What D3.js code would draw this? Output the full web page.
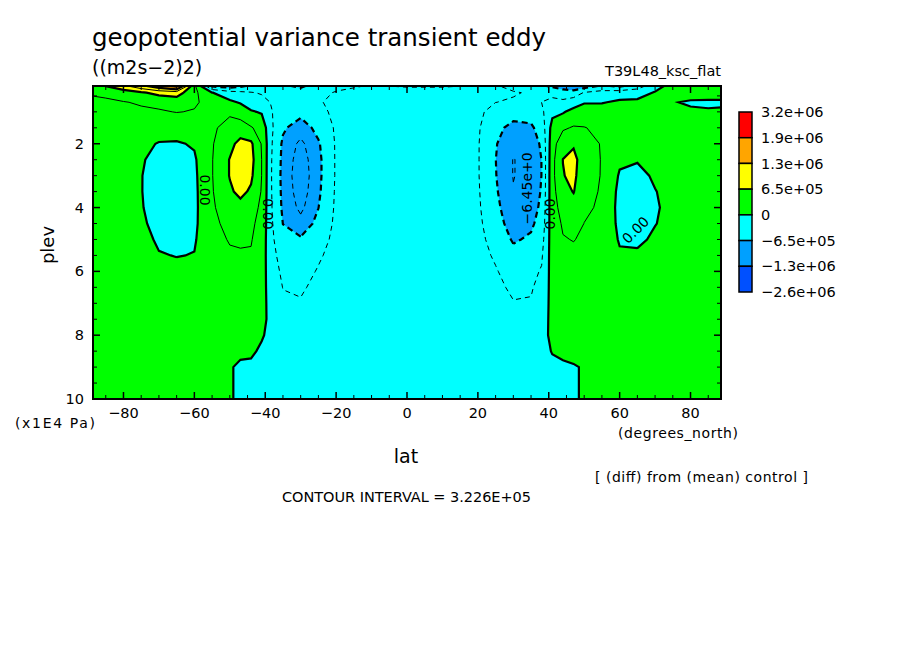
<!DOCTYPE html>
<html><head><meta charset="utf-8">
<script src="https://cdn.jsdelivr.net/npm/d3@7"></script>
<style>body{margin:0;background:#fff}text{font-family:"DejaVu Sans",sans-serif;fill:#000}</style>
</head><body><svg id="c" width="904" height="654"></svg>
<script>
// ---- data (units of 1e5 (m2s-2)2) ----
const lats = [-90,-85,-80,-75,-70,-65,-60,-55,-50,-47,-44,-41,-38,-35,-30,-25,-20,-10,0,10,20,25,30,35,38,41,44,47,50,55,60,65,70,75,80,85,90];
const plevs = [0.19,0.4,0.7,1,1.5,2,2.5,3,3.5,4,4.5,5,5.5,6,6.5,7,7.5,8,8.5,9,9.5,10];
const columns = [
[5,3.5,2.5,2,2,2,2,2,2,2,2,2,2,2,2,2,2,2,2,2,2,2],
[6.5,3.9,2.7,2.1,2,2,2,2,2,2,2,2,2,2,2,2,2,2,2,2,2,2],
[9,4.6,3.1,2.3,2,1.8,1.5,1.3,1.3,1.4,1.6,1.8,2,2,2,2,2,2,2,2,2,2],
[12,6,3.5,2.8,2,0.8,0.3,0.1,0.1,0.2,0.5,1.1,1.6,2,2,2,2,2,2,2,2,2],
[15,7.5,3.8,3,1.6,-0.2,-1,-1.3,-1.4,-1.3,-1,-0.5,0.2,1,1.6,2,2,2,2,2,2,2],
[18,8,4.5,3.3,1.5,-0.3,-1.3,-1.6,-1.6,-1.5,-1.3,-0.8,-0.1,0.8,1.5,2,2,2,2,2,2,2],
[4,4,3.5,3.1,1.8,0.3,-0.4,-0.6,-0.7,-0.7,-0.6,-0.3,0.1,0.8,1.5,2,2,2,2,2,2,2],
[-7,0.1,2.5,2.8,2.8,3.0,3.1,3.1,3.0,2.8,2.6,2.4,2.2,2.2,2.2,2.2,2.2,2.2,2.2,2.1,2,2],
[-8,-2,0.6,2.8,4.2,5.5,6.6,6.6,6,5,4,3.4,2.9,2.6,2.4,2.2,2,1.8,1.2,0.25,0.25,0.25],
[-7,-2.5,-0.3,2,4.5,7.5,8.5,8,7.2,5.5,4.2,3.5,3,2.6,2.3,2.1,1.9,1.5,0.6,-0.5,-0.5,-0.5],
[-6,-3,-1.5,0.3,3.5,7,7.5,7,6,4.5,3.8,3.4,3,2.7,2.4,2.2,2,1.6,0.5,-0.6,-0.7,-0.7],
[-5,-3.5,-2.2,-0.3,2,3,3.2,3.2,3,2.6,2.2,1.8,1.5,1.3,1.1,1,0.9,0.3,-0.5,-0.8,-0.8,-0.8],
[-5,-4,-3.5,-3.2,-3,-3.3,-3.6,-3.7,-3.6,-3.4,-3.1,-2.8,-2.4,-2,-1.6,-1.3,-1.1,-1,-0.9,-0.9,-0.9,-0.9],
[-6,-5,-4.5,-5,-6,-7,-7.2,-7.3,-7.2,-7,-6.5,-5.5,-4.5,-3.8,-3.3,-2.8,-2.4,-2.1,-1.9,-1.8,-1.7,-1.6],
[-7,-5,-4,-5.5,-8,-10.5,-11.5,-12,-11.5,-10.5,-8.5,-6,-5,-4.3,-3.6,-3,-2.5,-2.2,-2,-1.8,-1.7,-1.6],
[-5,-4,-3.5,-4,-5.5,-6.8,-7.2,-7.2,-7,-6.5,-5.5,-4.5,-3.6,-3,-2.5,-2.2,-2,-1.8,-1.7,-1.6,-1.5,-1.5],
[-4,-3,-2.5,-2.6,-2.8,-2.9,-2.9,-2.9,-2.8,-2.7,-2.6,-2.4,-2.2,-2,-1.8,-1.7,-1.6,-1.5,-1.5,-1.5,-1.4,-1.4],
[-3,-2,-1.5,-1.5,-1.6,-1.7,-1.8,-1.8,-1.7,-1.6,-1.5,-1.4,-1.3,-1.3,-1.3,-1.3,-1.3,-1.3,-1.3,-1.3,-1.3,-1.3],
[-3.5,-2,-1.5,-1.3,-1.3,-1.4,-1.4,-1.4,-1.4,-1.3,-1.3,-1.2,-1.2,-1.2,-1.2,-1.2,-1.2,-1.2,-1.2,-1.2,-1.2,-1.2],
[-3.5,-2,-1.5,-1.5,-1.6,-1.7,-1.8,-1.8,-1.7,-1.6,-1.5,-1.4,-1.3,-1.3,-1.3,-1.3,-1.3,-1.3,-1.3,-1.3,-1.3,-1.3],
[-3,-2.5,-2.2,-2.5,-2.9,-3,-3,-3,-2.9,-2.8,-2.6,-2.4,-2.2,-2,-1.8,-1.7,-1.6,-1.5,-1.5,-1.5,-1.4,-1.4],
[-3,-3,-3.2,-4.5,-5.5,-6.2,-6.4,-6.3,-6,-5.5,-5,-4.3,-3.6,-3,-2.6,-2.3,-2,-1.8,-1.7,-1.6,-1.5,-1.5],
[-4,-3,-3.5,-5,-7.5,-9,-9.8,-9.8,-9.5,-9,-8,-6.8,-5.5,-4.5,-3.7,-3.1,-2.6,-2.2,-2,-1.8,-1.7,-1.6],
[-5,-3.5,-3.5,-5,-7,-8,-8.5,-8.5,-8.2,-7.8,-7,-6,-4.8,-3.9,-3.4,-3.1,-2.6,-2.2,-2,-1.8,-1.7,-1.6],
[-6,-4,-3.2,-3.8,-5,-6,-6.4,-6.4,-6.2,-5.8,-5.2,-4.4,-3.6,-3,-2.6,-2.2,-1.8,-1.5,-1.3,-1.2,-1.2,-1.2],
[-7,-4,-2.5,-0.8,1.2,2,2.3,2.4,2.3,2.2,2,1.8,1.6,1.4,1.3,1.2,1.1,1,0.2,-0.8,-0.8,-0.8],
[-8,-5,-2.5,-0.3,2.8,5.2,6.5,6.3,5.2,4.2,3.5,3.1,2.7,2.4,2.2,2,1.9,1.6,0.8,-0.6,-0.6,-0.6],
[-9,-5,-1.5,1,3.5,6,7.5,7.2,6.6,5,4,3.3,2.8,2.5,2.3,2.1,2,1.8,1.2,-0.3,-0.3,-0.3],
[-8,-3,-0.3,2,3.3,4,4.5,4.3,4,3.6,3.2,2.9,2.6,2.4,2.3,2.2,2.1,2,1.8,0.3,0.3,0.3],
[-6,-2,-0.2,1.5,2.8,3.1,3.1,3.1,3.0,2.9,2.7,2.5,2.3,2.2,2.2,2.2,2.2,2.2,2.2,2.2,2.2,2.2],
[-7,-1.5,0.5,2,2.3,1.5,0.5,-0.3,-0.8,-1,-0.8,-0.3,0.4,1.2,1.8,2,2,2,2,2,2,2],
[-5,-1,0.5,1.8,2,1.2,0.2,-0.8,-1.4,-1.6,-1.4,-0.6,0.5,1.3,1.8,2,2,2,2,2,2,2],
[-1,0.2,0.8,1.5,2,1.6,1,0.4,-0.1,-0.3,-0.1,0.5,1.2,1.8,2,2,2,2,2,2,2,2],
[1,1.5,0.2,1.5,2,1.8,1.5,1.2,0.9,0.8,0.9,1.2,1.6,2,2,2,2,2,2,2,2,2],
[1.5,1.5,-0.4,0.5,2,2,2,2,2,2,2,2,2,2,2,2,2,2,2,2,2,2],
[1.5,1.5,-0.5,0.3,2,2,2,2,2,2,2,2,2,2,2,2,2,2,2,2,2,2],
[1.5,1.5,-0.5,0.5,2,2,2,2,2,2,2,2,2,2,2,2,2,2,2,2,2,2]
];
const fillThresholds = [-13,-6.45,0,6.45,13,19.4];
const fillColors = ["#0050ff","#00a0ff","#00ffff","#00ff00","#ffff00","#ffa500","#ff0000"];
const legendLabels = ["3.2e+06","1.9e+06","1.3e+06","6.5e+05","0","\u22126.5e+05","\u22121.3e+06","\u22122.6e+06"];
const lineInterval = 3.226;
const xTicks = [-80,-60,-40,-20,0,20,40,60,80];
const yTicks = [2,4,6,8,10];
const contourLabels = [
 {lat:-57,plev:3.45,text:"0.00",angle:90},
 {lat:-39.3,plev:4.2,text:"0.00",angle:90},
 {lat:40.3,plev:4.2,text:"0.00",angle:-90},
 {lat:34,plev:3.4,text:"\u22126.45e+0",angle:-90},
 {lat:64.5,plev:4.7,text:"0.00",angle:-45}
];

// ---- layout ----
const svg = d3.select("#c");
const L=93,R=721,T=86,B=399;
const x = d3.scaleLinear().domain([-88.6,88.6]).range([L,R]);
const y = d3.scaleLinear().domain([0.19,10]).range([T,B]);
const nx = lats.length, ny = plevs.length;
const vals = new Array(nx*ny);
for(let j=0;j<ny;j++) for(let i=0;i<nx;i++) vals[j*nx+i]=columns[i][j];
const iLat = d3.scaleLinear().domain(d3.range(nx)).range(lats).clamp(true);
const jLev = d3.scaleLinear().domain(d3.range(ny)).range(plevs).clamp(true);
const px = c => x(iLat(c-0.5)), py = c => y(jLev(c-0.5));

svg.append("clipPath").attr("id","clip").append("rect").attr("x",L).attr("y",T).attr("width",R-L).attr("height",B-T);
const g = svg.append("g").attr("clip-path","url(#clip)");
const gen = d3.contours().size([nx,ny]);
function fillPath(geom){
  let s="";
  geom.coordinates.forEach(poly=>poly.forEach(ring=>{
    ring.forEach((p,k)=>{ s+=(k?"L":"M")+px(p[0]).toFixed(2)+","+py(p[1]).toFixed(2); });
    s+="Z";
  }));
  return s;
}
function linePath(geom){
  let s="";
  const onB=(p)=>({l:p[0]<=0.5,r:p[0]>=nx-0.5,t:p[1]<=0.5,b:p[1]>=ny-0.5});
  geom.coordinates.forEach(poly=>poly.forEach(ring=>{
    let pen=false;
    for(let k=1;k<ring.length;k++){
      const p=ring[k], q=ring[k-1];
      const a=onB(q),b=onB(p);
      const border=(a.l&&b.l)||(a.r&&b.r)||(a.t&&b.t)||(a.b&&b.b);
      if(border){pen=false;continue;}
      if(!pen){s+="M"+px(q[0]).toFixed(2)+","+py(q[1]).toFixed(2);pen=true;}
      s+="L"+px(p[0]).toFixed(2)+","+py(p[1]).toFixed(2);
    }
  }));
  return s;
}
g.append("rect").attr("x",L).attr("y",T).attr("width",R-L).attr("height",B-T).attr("fill",fillColors[0]);
gen.thresholds(fillThresholds)(vals).forEach((c,k)=>{
  g.append("path").attr("d",fillPath(c)).attr("fill",fillColors[k+1]);
});
const lineLevels = d3.range(-4,7).map(k=>k*lineInterval);
lineLevels.forEach(lv=>{
  const c = gen.thresholds([lv])(vals)[0];
  const k = Math.round(lv/lineInterval);
  const thick = (k===0||Math.abs(k)===2||k===4);
  g.append("path").attr("d",linePath(c)).attr("fill","none").attr("stroke","#000")
   .attr("stroke-width",thick?2.2:1).attr("stroke-dasharray",lv<0?(thick?"6,4":"5,4"):null);
});
contourLabels.forEach(d=>{
  svg.append("text").attr("transform",`translate(${x(d.lat)},${y(d.plev)}) rotate(${d.angle})`)
   .attr("text-anchor","middle").attr("dy","0.35em").attr("font-size",14).text(d.text);
});
// frame & ticks
svg.append("rect").attr("x",L).attr("y",T).attr("width",R-L).attr("height",B-T).attr("fill","none").attr("stroke","#000").attr("stroke-width",2);
xTicks.forEach(t=>{
  svg.append("line").attr("x1",x(t)).attr("x2",x(t)).attr("y1",B).attr("y2",B-7).attr("stroke","#000").attr("stroke-width",1.5);
  svg.append("line").attr("x1",x(t)).attr("x2",x(t)).attr("y1",T).attr("y2",T+7).attr("stroke","#000").attr("stroke-width",1.5);
  svg.append("text").attr("x",x(t)).attr("y",418).attr("text-anchor","middle").attr("font-size",14.5).text(t<0?"\u2212"+(-t):t);
});
d3.range(-85,90,5).filter(t=>t%20!==0).forEach(t=>{
  [[B,B-4],[T,T+4]].forEach(([a,b])=>svg.append("line").attr("x1",x(t)).attr("x2",x(t)).attr("y1",a).attr("y2",b).attr("stroke","#000"));
});
yTicks.forEach(t=>{
  [[L,L+7],[R,R-7]].forEach(([a,b])=>svg.append("line").attr("x1",a).attr("x2",b).attr("y1",y(t)).attr("y2",y(t)).attr("stroke","#000").attr("stroke-width",1.5));
  svg.append("text").attr("x",84).attr("y",y(t)).attr("dy","0.35em").attr("text-anchor","end").attr("font-size",14.5).text(t);
});
d3.range(0.5,10,0.5).filter(t=>t%2!==0).forEach(t=>{
  [[L,L+4],[R,R-4]].forEach(([a,b])=>svg.append("line").attr("x1",a).attr("x2",b).attr("y1",y(t)).attr("y2",y(t)).attr("stroke","#000"));
});
// texts
svg.append("text").attr("x",92).attr("y",46).attr("font-size",24.5).text("geopotential variance transient eddy");
svg.append("text").attr("x",92).attr("y",74).attr("font-size",19).text("((m2s\u22122)2)");
svg.append("text").attr("x",721).attr("y",76).attr("text-anchor","end").attr("font-size",14.5).text("T39L48_ksc_flat");
svg.append("text").attr("transform","translate(54,245) rotate(-90)").attr("text-anchor","middle").attr("font-size",18).text("plev");
svg.append("text").attr("x",15).attr("y",428).attr("font-size",14).attr("textLength",80).text("(x1E4 Pa)");
svg.append("text").attr("x",406).attr("y",463).attr("text-anchor","middle").attr("font-size",19).text("lat");
svg.append("text").attr("x",618).attr("y",438).attr("font-size",14).attr("textLength",120).text("(degrees_north)");
svg.append("text").attr("x",595).attr("y",482).attr("font-size",14).attr("textLength",213).text("[ (diff) from (mean) control ]");
svg.append("text").attr("x",282).attr("y",502).attr("font-size",14.5).attr("textLength",249).text("CONTOUR INTERVAL = 3.226E+05");
// legend
const lg = svg.append("g");
const ly = d3.scaleLinear().domain([0,7]).range([112,292]);
const legColors = fillColors.slice().reverse();
legColors.forEach((c,k)=>lg.append("rect").attr("x",739).attr("y",ly(k)).attr("width",13).attr("height",ly(1)-ly(0)).attr("fill",c).attr("stroke","#000").attr("stroke-width",1.5));
legendLabels.forEach((t,k)=>lg.append("text").attr("x",761).attr("y",ly(k)).attr("dy","0.35em").attr("font-size",14.5).text(t));
</script></body></html>
